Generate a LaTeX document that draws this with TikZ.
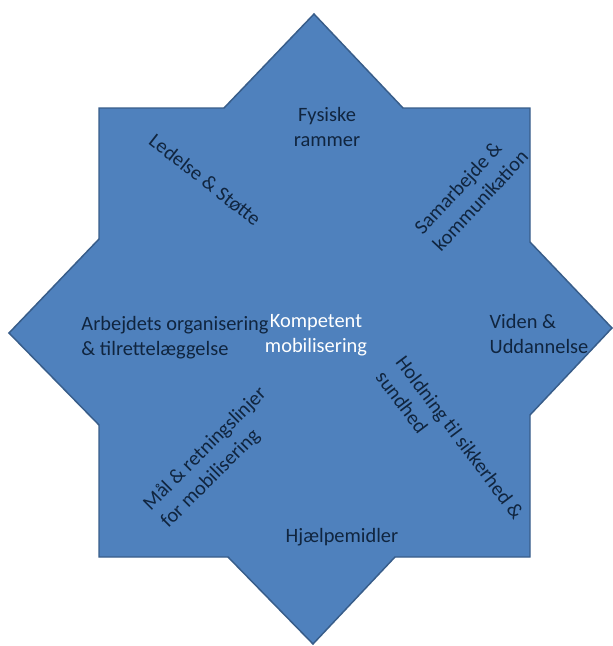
\documentclass[tikz,border=0pt]{standalone}
\usepackage{fontspec}
\setmainfont{Carlito}
\usepackage{tikz}
\usetikzlibrary{positioning}
\definecolor{starfill}{HTML}{4F81BD}
\definecolor{staredge}{HTML}{385D8A}
\definecolor{labeltext}{HTML}{10253F}
\tikzstyle{star}=[fill=starfill,draw=staredge,line width=1.1pt,line join=miter]
\tikzstyle{lbl}=[text=labeltext,inner sep=0pt,align=left,font=\fontsize{15.3pt}{18.75pt}\selectfont]
\tikzstyle{core}=[lbl,text=white,align=center]

\begin{document}
\begin{tikzpicture}[x=0.75pt,y=-0.75pt]
				
				\useasboundingbox (0,0) rectangle (612,646);
				
				\draw[star] (99,108) -- (224,108) -- (314,14) -- (403,108) -- (530,108) -- (530,242)
				-- (612,328) -- (530,415) -- (530,557) -- (395,557) -- (313,644) -- (228,557)
				-- (99,557) -- (99,425) -- (9,333) -- (99,239) -- cycle;
				
				\node [core] (kompetent) at (316,335) {Kompetent\\mobilisering};
				
				\node [lbl,align=center] (fysiske) at (327,127) {Fysiske\\rammer};
				\node [lbl,rotate=-38] (ledelse) at (205,180) {Ledelse \& Støtte};
				\node [lbl,rotate=47] (samarbejde) at (471,192) {Samarbejde \&\\kommunikation};
				\node [lbl] (viden) at (539,334) {Viden \&\\Uddannelse};
				\node [lbl] (arbejdets) at (175,338) {Arbejdets organisering\\ \& tilrettelæggelse};
				\node [lbl,rotate=-53] (holdning) at (450,445) {Holdning til sikkerhed \&\\sundhed};
				\node [lbl,rotate=45] (maal) at (214,458) {Mål \& retningslinjer\\for mobilisering};
				\node [lbl] (hjaelp) at (342,537) {Hjælpemidler};
				
				\end{tikzpicture}
\end{document}
